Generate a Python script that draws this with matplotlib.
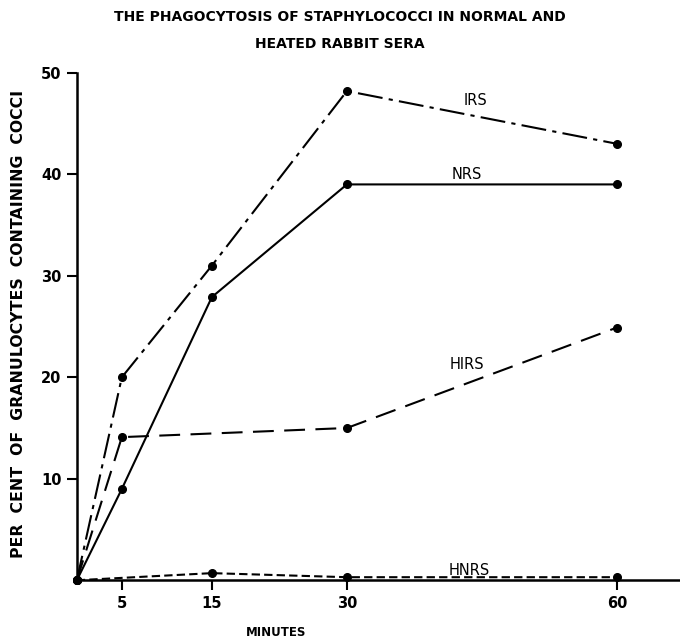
import matplotlib.pyplot as plt

minutes_irs = [0, 5, 15, 30, 60]
irs = [0, 20.0, 31.0, 48.2, 43.0]

minutes_nrs = [0, 5, 15, 30, 60]
nrs = [0, 9.0, 27.9, 39.0, 39.0]

minutes_hirs = [0, 5, 30, 60]
hirs = [0, 14.1, 15.0, 24.9]

minutes_hnrs = [0, 15, 30, 60]
hnrs = [0, 0.7, 0.3, 0.3]

xticks = [5, 15, 30, 60]
yticks = [10, 20, 30, 40, 50]

fig = plt.figure(figsize=(6.8, 6.44), dpi=100)
ax = fig.add_axes([0.113, 0.099, 0.887, 0.788])

kw = dict(color='black', lw=1.5, marker='o', ms=5.5, clip_on=False)
ax.plot(minutes_irs, irs, dashes=(12, 3, 2, 3), **kw)
ax.plot(minutes_nrs, nrs, ls='-', **kw)
ax.plot(minutes_hirs, hirs, dashes=(10, 5), **kw)
ax.plot(minutes_hnrs, hnrs, dashes=(4, 2), **kw)

# curve labels
lab = dict(fontsize=10.5, ha='center', va='center')
ax.text(44.3, 47.3, 'IRS', **lab)
ax.text(43.3, 40.0, 'NRS', **lab)
ax.text(43.3, 21.3, 'HIRS', **lab)
ax.text(43.6, 1.0, 'HNRS', **lab)

ax.set_xlim(0, 67)
ax.set_ylim(0, 50)
ax.set_xticks(xticks)
ax.set_yticks(yticks)
ax.tick_params(direction='out', length=7, width=1.5, labelsize=10.5, pad=4)
for t in ax.get_xticklabels() + ax.get_yticklabels():
    t.set_fontweight('bold')
for s in ['top', 'right']:
    ax.spines[s].set_visible(False)
for s in ['left', 'bottom']:
    ax.spines[s].set_linewidth(1.8)

ax.set_ylabel('PER  CENT  OF  GRANULOCYTES  CONTAINING  COCCI',
              fontsize=11.3, fontweight='bold')
ax.yaxis.set_label_coords(-0.085, 0.505)
ax.set_xlabel('MINUTES', fontsize=8.5, fontweight='bold')
ax.xaxis.set_label_coords(0.33, -0.09)

fig.text(0.5, 0.985, 'THE PHAGOCYTOSIS OF STAPHYLOCOCCI IN NORMAL AND\nHEATED RABBIT SERA',
         ha='center', va='top', fontsize=10, fontweight='bold', linespacing=2.25)

plt.savefig('out.png', dpi=100)
